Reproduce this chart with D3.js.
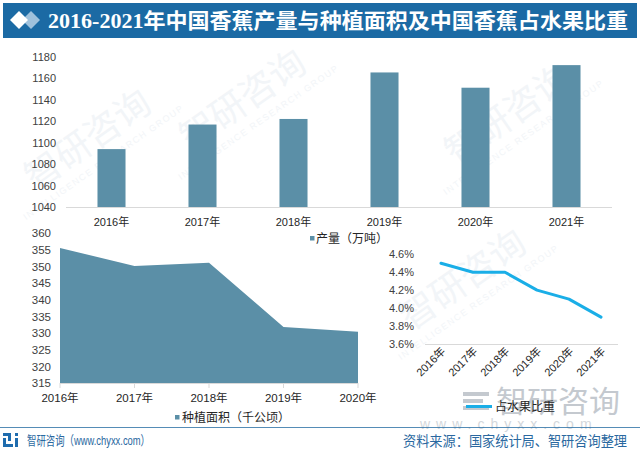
<!DOCTYPE html>
<html><head><meta charset="utf-8">
<script src="https://cdn.jsdelivr.net/npm/d3@7"></script>
<style>
html,body{margin:0;padding:0;background:#fff;}
svg{display:block;}
text{font-family:"Liberation Sans","Noto Sans CJK SC",sans-serif;}
</style></head>
<body>
<script>
// ---------- DATA ----------
const years = ["2016年","2017年","2018年","2019年","2020年","2021年"];
const production = [1094.04, 1116.96, 1122.17, 1165.58, 1151.33, 1172.42];   // 万吨
const prodTicks = [1040,1060,1080,1100,1120,1140,1160,1180];
const areaYears = ["2016年","2017年","2018年","2019年","2020年"];
const plantingArea = [355.6, 350.2, 351.2, 331.9, 330.5];                     // 千公顷
const areaTicks = [315,320,325,330,335,340,345,350,355,360];
const shareYears = ["2016年","2017年","2018年","2019年","2020年","2021年"];
const fruitShare = [4.5, 4.4, 4.4, 4.2, 4.1, 3.9];                            // %
const shareTicks = [3.6,3.8,4.0,4.2,4.4,4.6];
const titleText = "2016-2021年中国香蕉产量与种植面积及中国香蕉占水果比重";
const legendProd = "产量（万吨）";
const legendArea = "种植面积（千公顷）";
const legendShare = "占水果比重";
const footLeft = "智研咨询（www.chyxx.com）";
const footRight = "资料来源：国家统计局、智研咨询整理";

const W = 640, H = 451;
const barColor = "#5b8fa7", lineColor = "#1aaee7", axisColor = "#d9d9d9";

const svg = d3.select("body").append("svg").attr("width", W).attr("height", H);
svg.append("rect").attr("width", W).attr("height", H).attr("fill", "#fff");

// ---------- faint watermarks ----------
const wm = svg.append("g").attr("fill", "#f2f5f8");
[[250,110],[95,150],[515,125],[470,290]].forEach(([x,y]) => {
  const g = wm.append("g").attr("transform", `translate(${x},${y}) rotate(-35)`);
  g.append("text").attr("text-anchor","middle").attr("font-size", 36).text("智研咨询");
  g.append("text").attr("text-anchor","middle").attr("y", 18).attr("font-size", 9).attr("letter-spacing", 1.5).text("INTELLIGENCE RESEARCH GROUP");
});

// ---------- title bar ----------
svg.append("rect").attr("x", 3).attr("y", 3).attr("width", 634).attr("height", 35).attr("fill", "#1b6aa4");
svg.append("path").attr("d", "M31,11 L40,20 L31,29 L22,20 Z").attr("fill", "#9fc1dc");
svg.append("path").attr("d", "M19,11 L28,20 L19,29 L10,20 Z").attr("fill", "#ffffff");
svg.append("text").attr("x", 48).attr("y", 28).attr("fill", "#fff")
  .attr("font-size", 21).attr("font-weight", "bold")
  .style("font-family", "'Liberation Serif','Noto Sans CJK SC',serif")
  .attr("textLength", 580).attr("lengthAdjust", "spacingAndGlyphs")
  .text(titleText);

// ---------- top bar chart ----------
const x1 = d3.scaleBand().domain(years).range([66, 612]).paddingInner(0.692).paddingOuter(0.346);
const y1 = d3.scaleLinear().domain([1040, 1180]).range([207, 57]);
const g1 = svg.append("g");
g1.selectAll("rect.bar").data(production).join("rect").attr("class","bar")
  .attr("x", (d,i) => x1(years[i])).attr("width", x1.bandwidth())
  .attr("y", d => y1(d)).attr("height", d => y1(1040) - y1(d)).attr("fill", barColor);
g1.append("line").attr("x1", 66).attr("x2", 612).attr("y1", 207.5).attr("y2", 207.5).attr("stroke", axisColor);
g1.selectAll("text.yt").data(prodTicks).join("text").attr("class","yt")
  .attr("x", 56).attr("y", d => y1(d) + 4).attr("text-anchor","end").attr("font-size", 11).attr("fill","#404040").text(d => d);
g1.selectAll("text.xt").data(years).join("text").attr("class","xt")
  .attr("x", d => x1(d) + x1.bandwidth()/2).attr("y", 226).attr("text-anchor","middle").attr("font-size", 11).attr("fill","#262626").text(d => d);
g1.append("rect").attr("x", 310).attr("y", 236).attr("width", 4.5).attr("height", 4.5).attr("fill", barColor);
g1.append("text").attr("x", 316).attr("y", 243).attr("font-size", 12).attr("fill","#262626").text(legendProd);

// ---------- area chart ----------
const x2 = d3.scalePoint().domain(areaYears).range([60, 358]);
const y2 = d3.scaleLinear().domain([315, 360]).range([383.3, 233.3]);
const g2 = svg.append("g");
const area = d3.area().x((d,i) => x2(areaYears[i])).y0(y2(315)).y1(d => y2(d));
g2.append("path").datum(plantingArea).attr("d", area).attr("fill", barColor);
g2.append("line").attr("x1", 60).attr("x2", 358).attr("y1", 383.5).attr("y2", 383.5).attr("stroke", axisColor);
g2.selectAll("line.tk").data(areaYears).join("line").attr("class","tk")
  .attr("x1", d => x2(d)).attr("x2", d => x2(d)).attr("y1", 383).attr("y2", 388).attr("stroke", axisColor);
g2.selectAll("text.yt").data(areaTicks).join("text").attr("class","yt")
  .attr("x", 51).attr("y", d => y2(d) + 4).attr("text-anchor","end").attr("font-size", 11.5).attr("fill","#404040").text(d => d);
g2.selectAll("text.xt").data(areaYears).join("text").attr("class","xt")
  .attr("x", d => x2(d)).attr("y", 402).attr("text-anchor","middle").attr("font-size", 11.5).attr("fill","#262626").text(d => d);
g2.append("rect").attr("x", 175).attr("y", 415).attr("width", 4.5).attr("height", 4.5).attr("fill", barColor);
g2.append("text").attr("x", 182).attr("y", 422).attr("font-size", 12).attr("fill","#262626").text(legendArea);

// ---------- line chart ----------
// watermark logo behind legend
const wl = svg.append("g").attr("fill", "#c4c9cf");
wl.append("rect").attr("x", 463).attr("y", 392).attr("width", 26).attr("height", 4);
wl.append("rect").attr("x", 463).attr("y", 399).attr("width", 20).attr("height", 4);
wl.append("rect").attr("x", 463).attr("y", 406).attr("width", 26).attr("height", 4);
wl.append("text").attr("x", 496).attr("y", 412).attr("font-size", 30).attr("textLength", 124).attr("lengthAdjust","spacingAndGlyphs").text("智研咨询");
svg.append("text").attr("x", 420).attr("y", 429).attr("font-size", 14).attr("fill", "#d3d7db").attr("letter-spacing", 6).text("www.chyxx.com");

const x3 = d3.scaleBand().domain(shareYears).range([425, 617]);
const y3 = d3.scaleLinear().domain([3.6, 4.6]).range([344, 254.3]);
const g3 = svg.append("g");
g3.append("line").attr("x1", 425).attr("x2", 618).attr("y1", 344.5).attr("y2", 344.5).attr("stroke", axisColor);
const line = d3.line().x((d,i) => x3(shareYears[i]) + x3.bandwidth()/2).y(d => y3(d));
g3.append("path").datum(fruitShare).attr("d", line).attr("fill","none").attr("stroke", lineColor)
  .attr("stroke-width", 3).attr("stroke-linejoin","round").attr("stroke-linecap","round");
g3.selectAll("text.yt").data(shareTicks).join("text").attr("class","yt")
  .attr("x", 414).attr("y", d => y3(d) + 4).attr("text-anchor","end").attr("font-size", 11).attr("fill","#404040").text(d => d.toFixed(1) + "%");
g3.selectAll("text.xt").data(shareYears).join("text").attr("class","xt")
  .attr("transform", d => `translate(${x3(d) + x3.bandwidth()/2 + 5},${352}) rotate(-45)`)
  .attr("text-anchor","end").attr("font-size", 11).attr("fill","#262626").text(d => d);
g3.append("line").attr("x1", 466).attr("x2", 492).attr("y1", 406.5).attr("y2", 406.5).attr("stroke", lineColor).attr("stroke-width", 3);
g3.append("text").attr("x", 495).attr("y", 411).attr("font-size", 12).attr("fill","#262626").text(legendShare);

// ---------- footer ----------
svg.append("line").attr("x1", 0).attr("x2", W).attr("y1", 427.5).attr("y2", 427.5).attr("stroke", "#2a6fa3").attr("stroke-width", 0.8);
const fl = svg.append("g").attr("fill", "#1f6cae");
fl.append("rect").attr("x", 3).attr("y", 433).attr("width", 8).attr("height", 3);
fl.append("rect").attr("x", 8).attr("y", 433).attr("width", 3).attr("height", 8);
fl.append("rect").attr("x", 3).attr("y", 438).attr("width", 3).attr("height", 9);
fl.append("rect").attr("x", 3).attr("y", 444).attr("width", 10).attr("height", 3);
fl.append("rect").attr("x", 15).attr("y", 433).attr("width", 3).attr("height", 3);
fl.append("rect").attr("x", 15).attr("y", 438).attr("width", 3).attr("height", 9);
svg.append("text").attr("x", 27).attr("y", 445).attr("font-size", 13).attr("fill", "#2a68a0")
  .attr("textLength", 123).attr("lengthAdjust","spacingAndGlyphs").text(footLeft);
svg.append("text").attr("x", 403).attr("y", 446).attr("font-size", 14).attr("fill", "#2a68a0")
  .attr("textLength", 224).attr("lengthAdjust","spacingAndGlyphs").text(footRight);
</script>
</body></html>
